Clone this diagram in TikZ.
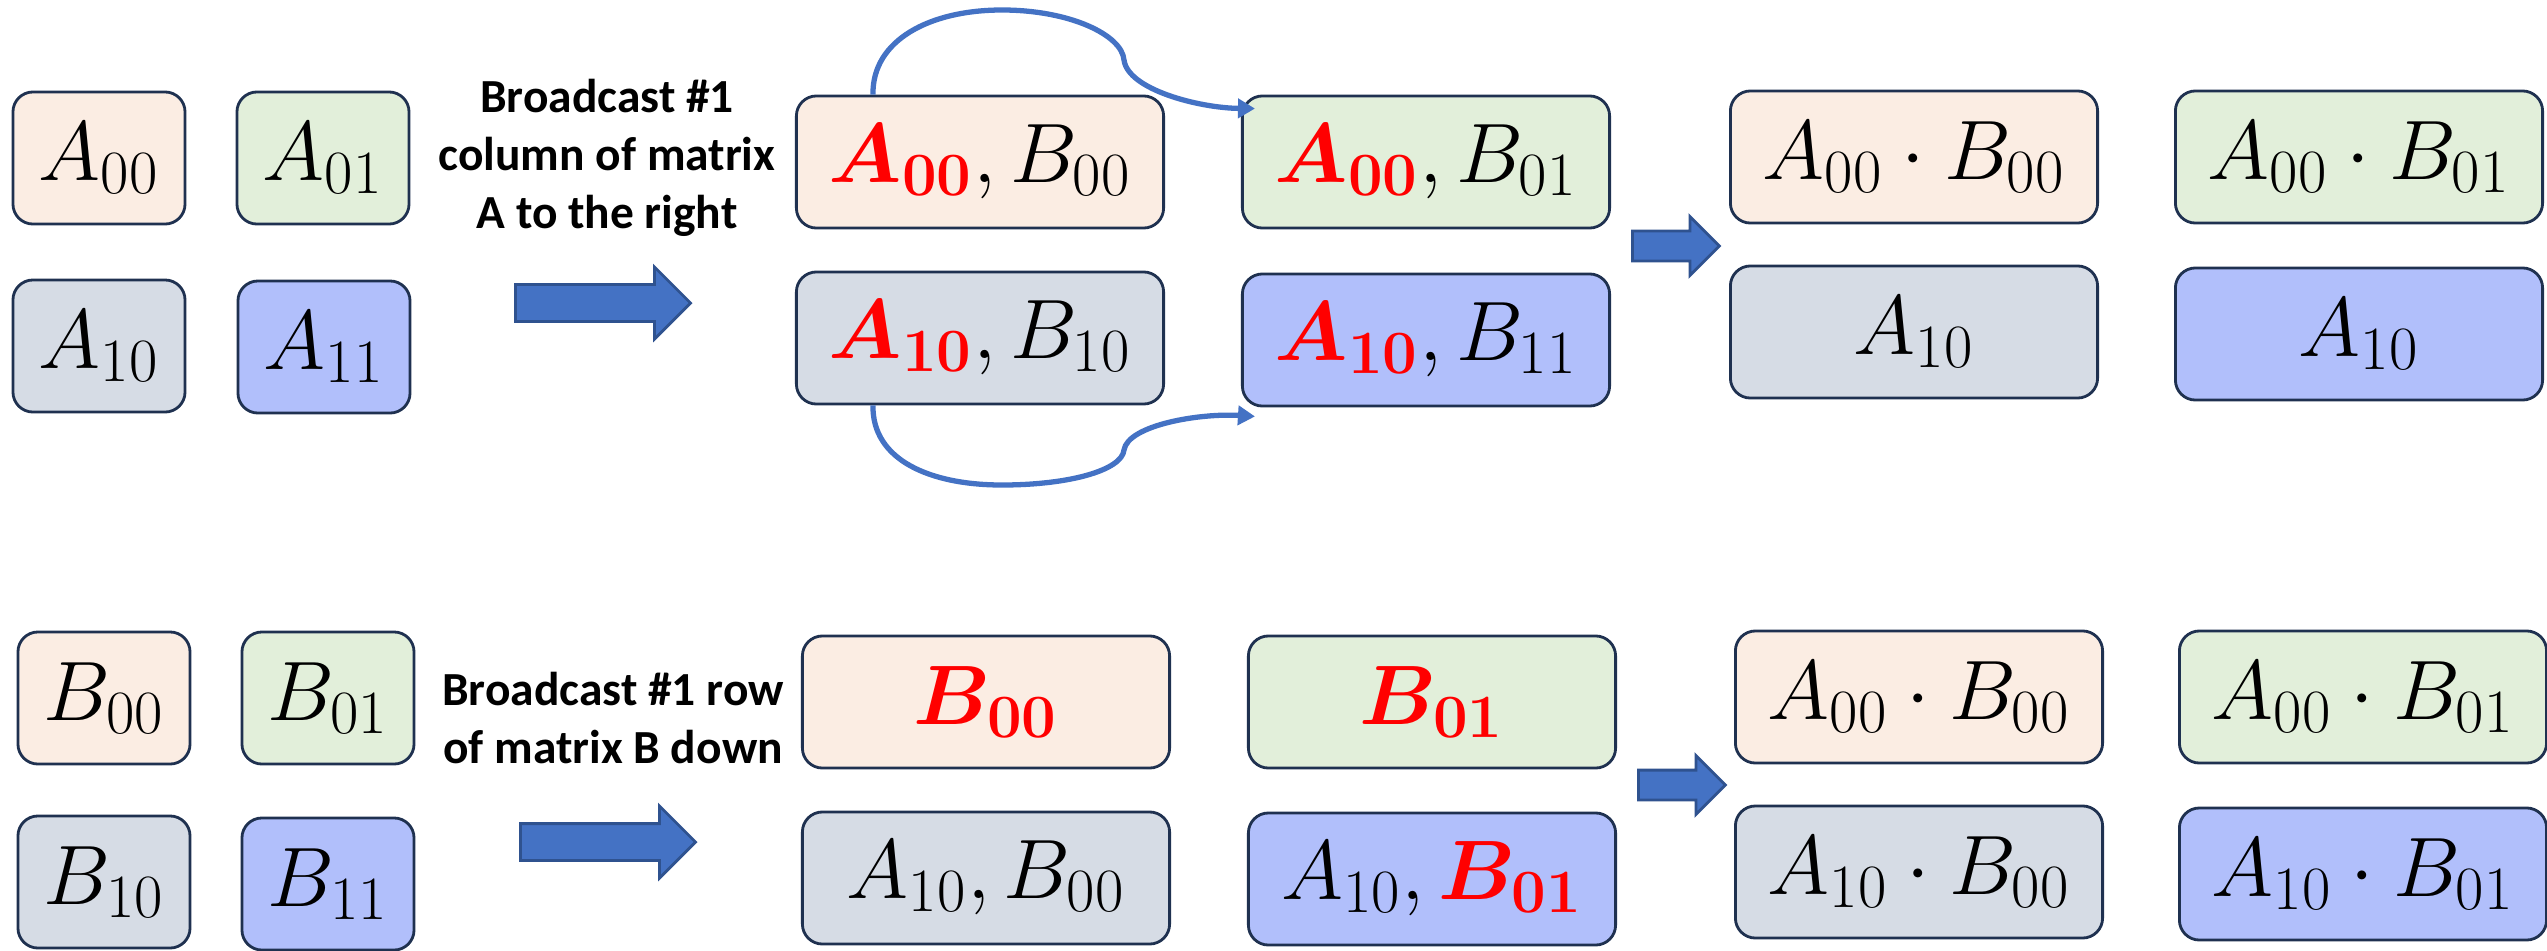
\RequirePackage{fix-cm}
\documentclass[tikz,border=0pt]{standalone}
\usepackage{amsmath,bm}
\usepackage{fontspec}
\newfontfamily\calibri{Carlito}
\usetikzlibrary{calc,arrows.meta,shapes.arrows}
\DeclareMathSizes{24}{24}{17.5}{12}

\definecolor{peach}{HTML}{FBEDE3}
\definecolor{mint}{HTML}{E2EFDA}
\definecolor{slate}{HTML}{D6DCE5}
\definecolor{lilac}{HTML}{B1BFFB}
\definecolor{cellline}{HTML}{1F3150}
\definecolor{arrowfill}{HTML}{4472C4}
\definecolor{arrowline}{HTML}{2F528F}
\newcommand{\sent}[1]{\textcolor{red}{\bm{#1}}}

\begin{document}
\begin{tikzpicture}[
  x=0.01cm, y=-0.01cm,
  every node/.style={font=\fontsize{24}{28}\selectfont},
  cell/.style={draw=cellline, line width=0.8pt, rounded corners=0.2cm, minimum width=1.72cm, minimum height=1.32cm, inner sep=0pt},
  wide/.style={cell, minimum width=3.67cm},
  note/.style={font=\calibri\bfseries\fontsize{13.5}{16.5}\selectfont, align=center},
  bigarrow/.style={single arrow, draw=arrowline, fill=arrowfill, line width=0.8pt, inner xsep=0pt, inner ysep=0.17cm, single arrow head extend=0.175cm, minimum height=1.75cm, anchor=tail},
  smallarrow/.style={bigarrow, inner ysep=0.135cm, single arrow head extend=0.145cm, minimum height=0.87cm},
  link/.style={draw=arrowfill, line width=1.5pt, -{Triangle[length=0.17cm,width=0.19cm]}}
]
\useasboundingbox (0,0) rectangle (2547,951);

\node[cell, fill=peach] (a00) at (99,158) {$A_{00}$};
\node[cell, fill=mint] (a01) at (323,158) {$A_{01}$};
\node[cell, fill=slate] (a10) at (99,346) {$A_{10}$};
\node[cell, fill=lilac] (a11) at (324,347) {$A_{11}$};

\node[note] (colnote) at (607,158) {Broadcast \#1\\column of matrix\\A to the right};
\node[bigarrow] (colarrow) at (514,303) {};

\node[wide, fill=peach] (ab00) at (980,162) {$\sent{A_{00}}, B_{00}$};
\node[wide, fill=mint] (ab01) at (1426,162) {$\sent{A_{00}}, B_{01}$};
\node[wide, fill=slate] (ab10) at (980,338) {$\sent{A_{10}}, B_{10}$};
\node[wide, fill=lilac] (ab11) at (1426,340) {$\sent{A_{10}}, B_{11}$};

\draw[link] ($(ab00.north west)+(78,0)$) .. controls (872,40) and (930,10) .. (1002,10)
  .. controls (1070,10) and (1122,35) .. (1124,60)
  .. controls (1128,90) and (1200,108) .. ($(ab01.north west)+(14,14)$);
\draw[link] ($(ab10.south west)+(78,0)$) .. controls (872,460) and (930,485) .. (1002,485)
  .. controls (1070,485) and (1122,470) .. (1124,450)
  .. controls (1128,425) and (1200,413) .. ($(ab11.south west)+(14,9)$);

\node[smallarrow] (colstep) at (1631,246) {};

\node[wide, fill=peach] (p00) at (1914,157) {$A_{00}\cdot B_{00}$};
\node[wide, fill=mint] (p01) at (2359,157) {$A_{00}\cdot B_{01}$};
\node[wide, fill=slate] (p10) at (1914,332) {$A_{10}$};
\node[wide, fill=lilac] (p11) at (2359,334) {$A_{10}$};

\node[cell, fill=peach] (b00) at (104,698) {$B_{00}$};
\node[cell, fill=mint] (b01) at (328,698) {$B_{01}$};
\node[cell, fill=slate] (b10) at (104,882) {$B_{10}$};
\node[cell, fill=lilac] (b11) at (328,884) {$B_{11}$};

\node[note] (rownote) at (613,718) {Broadcast \#1 row\\of matrix B down};
\node[bigarrow] (rowarrow) at (519,842) {};

\node[wide, fill=peach] (c00) at (986,702) {$\sent{B_{00}}$};
\node[wide, fill=mint] (c01) at (1432,702) {$\sent{B_{01}}$};
\node[wide, fill=slate] (c10) at (986,878) {$A_{10}, B_{00}$};
\node[wide, fill=lilac] (c11) at (1432,879) {$A_{10}, \sent{B_{01}}$};

\node[smallarrow] (rowstep) at (1637,785) {};

\node[wide, fill=peach] (d00) at (1919,697) {$A_{00}\cdot B_{00}$};
\node[wide, fill=mint] (d01) at (2363,697) {$A_{00}\cdot B_{01}$};
\node[wide, fill=slate] (d10) at (1919,872) {$A_{10}\cdot B_{00}$};
\node[wide, fill=lilac] (d11) at (2363,874) {$A_{10}\cdot B_{01}$};
\end{tikzpicture}
\end{document}
